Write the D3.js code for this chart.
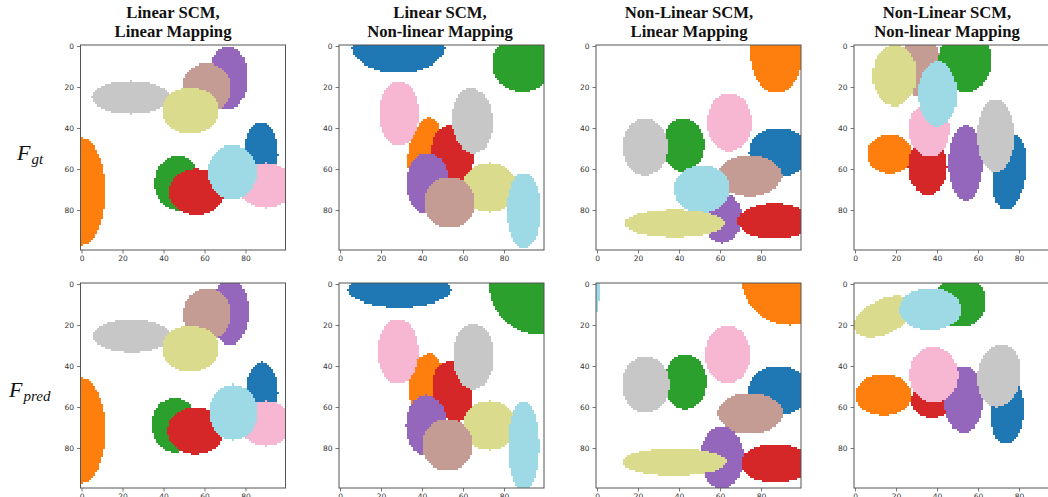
<!DOCTYPE html>
<html>
<head>
<meta charset="utf-8">
<script src="https://cdn.jsdelivr.net/npm/d3@7"></script>
<style>
  html, body { margin: 0; padding: 0; background: #fff; overflow: hidden; }
  svg { display: block; }
</style>
</head>
<body>
<svg id="fig" width="1048" height="497"></svg>
<script>
// ---- data ---------------------------------------------------------------
// object ids and their tab20 colours
const objectIds = ["blue", "orange", "green", "red", "purple", "brown", "pink", "grey", "olive", "cyan"];
const objectColors = ["#1f77b4", "#ff7f0e", "#2ca02c", "#d62728", "#9467bd", "#c49c94", "#f7b6d2", "#c7c7c7", "#dbdb8d", "#9edae5"];

const columnTitles = [
  ["Linear SCM,", "Linear Mapping"],
  ["Linear SCM,", "Non-linear Mapping"],
  ["Non-Linear SCM,", "Linear Mapping"],
  ["Non-Linear SCM,", "Non-linear Mapping"]
];
const rowLabels = [["F", "gt"], ["F", "pred"]];
const tickValues = [0, 20, 40, 60, 80];
const gridSize = 100;

// scenes: [object, centre col, centre row, radius x, radius y, tilt deg], painted in order
const linLinGt = [
  ["orange", 0, 71, 11.7, 26, 0],
  ["purple", 71.5, 15.5, 9.5, 15.5, 0],
  ["brown", 61, 20.5, 12, 12, 0],
  ["grey", 24, 25, 19, 8, 0],
  ["olive", 53, 31.6, 14, 11.3, 0],
  ["green", 46.8, 66.7, 11, 13.4, 0],
  ["red", 56, 71.2, 13.5, 11.3, 0],
  ["blue", 87.5, 53, 8.5, 16, 0],
  ["pink", 90, 68, 13.5, 11, 0],
  ["cyan", 73.5, 61.5, 12, 13.4, 0]
];
const linLinPred = [
  ["orange", 0, 71.5, 11.7, 25.5, 0],
  ["purple", 72.5, 13.5, 9, 16.5, 0],
  ["brown", 61.3, 14.8, 11.7, 12.5, 0],
  ["grey", 24.5, 25.2, 19, 8, 0],
  ["olive", 53, 31.6, 14, 11.3, 0],
  ["green", 45.5, 68.8, 11, 13.5, 0],
  ["red", 55.6, 71.6, 13.8, 11.5, 0],
  ["blue", 88, 53, 8, 15, 0],
  ["pink", 90, 68, 13, 11, 0],
  ["cyan", 74, 62.5, 12, 13.5, 0]
];
const linNonGt = [
  ["orange", 41, 50.5, 7.5, 16, 14],
  ["red", 55, 53, 10, 14.5, -10],
  ["purple", 42.7, 67, 10.5, 15, 0],
  ["olive", 73, 69, 13.4, 12, 0],
  ["brown", 53.5, 76.5, 12.5, 12.5, 0],
  ["cyan", 89.7, 80.2, 8.3, 18.2, 0],
  ["pink", 28.8, 33, 9.6, 15.8, 0],
  ["grey", 64.5, 36.4, 10, 15.8, -4],
  ["blue", 28.5, 1, 22.5, 12, 0],
  ["green", 89, 8.5, 15, 14, 0]
];
const linNonPred = [
  ["orange", 41.5, 47.5, 8, 14, 14],
  ["red", 55, 52.5, 9.8, 15, -10],
  ["purple", 42, 69, 10, 15, 0],
  ["olive", 73, 69, 13, 12, 0],
  ["brown", 52.5, 78.5, 12.5, 12.5, 0],
  ["cyan", 89.6, 79, 7.5, 22, 0],
  ["pink", 28.3, 33, 10, 16, 0],
  ["grey", 65, 35.3, 10, 16, 0],
  ["blue", 29, 3, 25, 8.3, 0],
  ["green", 99.5, 0, 27, 25, 0]
];
const nonLinGt = [
  ["green", 42, 48.3, 10.2, 13, 0],
  ["grey", 23.4, 49.2, 11, 14, 0],
  ["blue", 88.5, 52, 14.5, 12, 0],
  ["brown", 74.6, 63.2, 15.5, 10, 0],
  ["purple", 61, 83.5, 9.5, 12.5, 0],
  ["cyan", 51.2, 69.8, 13.7, 11.6, 0],
  ["red", 86.5, 85.4, 18, 8.6, 0],
  ["olive", 37.8, 86.5, 24.5, 6.6, 0],
  ["pink", 64.5, 37.2, 11, 14, 0],
  ["orange", 87.5, 2, 13, 21, 0]
];
const nonLinPred = [
  ["cyan", -6, 2, 7.5, 19, 0],
  ["green", 43, 47.6, 10.2, 13.6, 0],
  ["grey", 23.6, 49.1, 11.6, 13.8, 0],
  ["blue", 88.5, 52, 14.8, 12, 0],
  ["brown", 74.7, 63, 15.8, 10, 0],
  ["purple", 60.8, 84.5, 10.5, 15.5, 0],
  ["red", 87, 87.4, 17, 9.4, 0],
  ["olive", 37.6, 86.8, 25.6, 6.5, 0],
  ["pink", 63.6, 34.5, 11, 14.2, 0],
  ["orange", 94, -4, 24, 24, 0]
];
const nonNonGt = [
  ["orange", 17, 52.8, 11, 9.5, 0],
  ["red", 35.5, 59, 9.5, 13.5, 0],
  ["pink", 36.3, 40.5, 10, 13.5, 0],
  ["brown", 32, 10, 10, 15, 0],
  ["olive", 19.3, 14.3, 10.7, 15, 0],
  ["green", 53.8, 7, 13, 15.5, 0],
  ["cyan", 40.2, 23.4, 9.6, 15.8, 0],
  ["purple", 54, 57, 8.3, 18.5, 0],
  ["blue", 75.5, 61.7, 8, 18.4, 8],
  ["grey", 68.6, 43.7, 9, 17.7, 0]
];
const nonNonPred = [
  ["olive", 14, 16, 15.5, 8.5, -25],
  ["green", 51.5, 8.5, 12.5, 12.5, 0],
  ["cyan", 36.7, 12.3, 15, 10.3, 0],
  ["orange", 14, 54.2, 14, 10, 0],
  ["red", 37.5, 57, 10, 8.5, 0],
  ["purple", 53, 56.2, 9.6, 16.2, 0],
  ["pink", 38.4, 44.2, 11.7, 13.8, 0],
  ["blue", 74.5, 62.5, 8, 15.5, 5],
  ["grey", 70.3, 44.6, 10.5, 15.5, 8]
];

const scenes = [
  [linLinGt, linNonGt, nonLinGt, nonNonGt],
  [linLinPred, linNonPred, nonLinPred, nonNonPred]
];

// ---- layout -------------------------------------------------------------
const panelLeft = [80.5, 339, 596, 854];
const panelTop = [45, 283];
const panelSize = 205;
const titleCenter = [173, 440, 689, 947];
const rowLabelX = [17, 9];
const rowLabelBaseline = [160, 397];

const svg = d3.select("#fig");
svg.append("rect").attr("width", 1048).attr("height", 497).attr("fill", "#fff");

const color = d3.scaleOrdinal(objectIds, objectColors);
const x = d3.scaleLinear().domain([-0.5, gridSize - 0.5]).range([0, panelSize]);
const y = d3.scaleLinear().domain([-0.5, gridSize - 0.5]).range([0, panelSize]);

// label each pixel with the last object covering it, then merge runs per row
function rasterize(scene) {
  const runs = [];
  for (let r = 0; r < gridSize; r++) {
    let cur = null, start = 0;
    for (let c = 0; c <= gridSize; c++) {
      let lab = null;
      if (c < gridSize) {
        for (const [id, cx, cy, rx, ry, tilt] of scene) {
          const t = tilt * Math.PI / 180;
          const dx = c - cx, dy = r - cy;
          const u = dx * Math.cos(t) + dy * Math.sin(t);
          const v = -dx * Math.sin(t) + dy * Math.cos(t);
          if ((u / rx) ** 2 + (v / ry) ** 2 <= 1) lab = id;
        }
      }
      if (lab !== cur) {
        if (cur !== null) runs.push({ row: r, c0: start, c1: c - 1, id: cur });
        cur = lab;
        start = c;
      }
    }
  }
  return runs;
}

scenes.forEach((rowScenes, ri) => {
  rowScenes.forEach((scene, ci) => {
    const g = svg.append("g")
      .attr("transform", `translate(${panelLeft[ci]},${panelTop[ri]})`);

    g.append("g")
      .attr("shape-rendering", "crispEdges")
      .selectAll("rect")
      .data(rasterize(scene))
      .join("rect")
      .attr("x", d => x(d.c0 - 0.5))
      .attr("y", d => y(d.row - 0.5))
      .attr("width", d => x(d.c1 + 0.5) - x(d.c0 - 0.5))
      .attr("height", d => y(d.row + 0.5) - y(d.row - 0.5))
      .attr("fill", d => color(d.id));

    const styleAxis = sel => {
      sel.select(".domain").remove();
      sel.selectAll(".tick line").attr("stroke", "#555").attr("stroke-width", 0.8);
      sel.selectAll(".tick text")
        .attr("fill", "#333")
        .style("font-family", "'DejaVu Sans', sans-serif")
        .style("font-size", "7.5px");
    };

    g.append("g")
      .call(d3.axisLeft(y).tickValues(tickValues).tickSize(3.5).tickPadding(3))
      .call(styleAxis);
    g.append("g")
      .attr("transform", `translate(0,${panelSize})`)
      .call(d3.axisBottom(x).tickValues(tickValues).tickSize(3.5).tickPadding(2))
      .call(styleAxis);

    g.append("rect")
      .attr("width", panelSize)
      .attr("height", panelSize)
      .attr("fill", "none")
      .attr("stroke", "#555")
      .attr("stroke-width", 1);
  });
});

// column titles
columnTitles.forEach((lines, ci) => {
  const t = svg.append("text")
    .attr("text-anchor", "middle")
    .style("font-family", "'Liberation Serif', 'Times New Roman', serif")
    .style("font-weight", "bold")
    .style("font-size", "16.7px")
    .attr("fill", "#111");
  lines.forEach((line, li) => {
    t.append("tspan")
      .attr("x", titleCenter[ci])
      .attr("y", li === 0 ? 17.5 : 36.5)
      .text(line);
  });
});

// row labels F_gt, F_pred
rowLabels.forEach(([base, sub], ri) => {
  const t = svg.append("text")
    .attr("x", rowLabelX[ri])
    .attr("y", rowLabelBaseline[ri])
    .style("font-family", "'Liberation Serif', 'Times New Roman', serif")
    .style("font-style", "italic")
    .attr("fill", "#111");
  t.append("tspan").style("font-size", "22px").text(base);
  t.append("tspan").attr("dy", 4).attr("dx", 1).style("font-size", "15px").text(sub);
});
</script>
</body>
</html>
